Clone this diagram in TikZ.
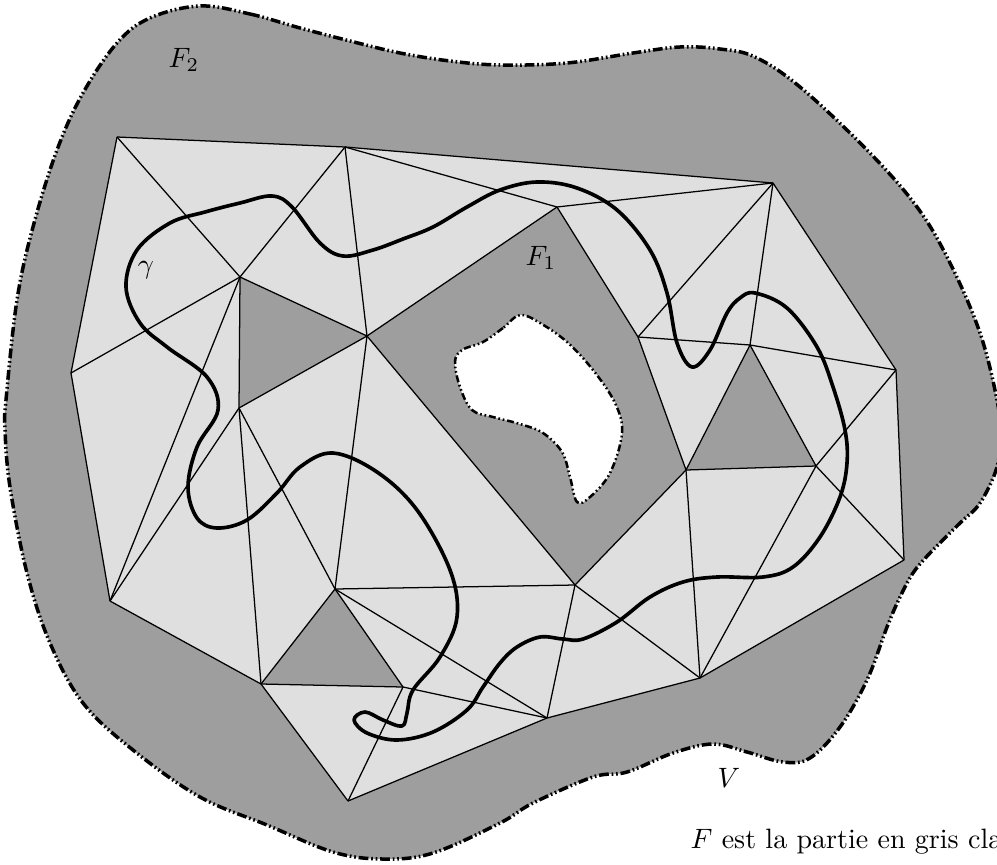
\documentclass[tikz,border=0pt]{standalone}
\usepackage{amsmath}
\usepackage{tikz}

\definecolor{grisfonce}{gray}{0.62}
\definecolor{grisclair}{gray}{0.875}
\tikzset{
    bord/.style={line width=1.25pt, dash pattern=on 3.5pt off 1pt on 0.6pt off 1pt on 0.6pt off 1pt},
    trou/.style={line width=0.9pt, dash pattern=on 2.5pt off 1pt on 0.6pt off 1pt on 0.6pt off 1pt},
    arete/.style={line width=0.45pt},
    courbe/.style={line width=1.3pt, line join=round},
}

\begin{document}
\begin{tikzpicture}[x=0.357pt,y=-0.357pt]
        \useasboundingbox (0,0) rectangle (997,864);

        \coordinate (a) at (117,137);
        \coordinate (b) at (345,147);
        \coordinate (c) at (773,183);
        \coordinate (d) at (557,207);
        \coordinate (e) at (240,277);
        \coordinate (g) at (367,336);
        \coordinate (h) at (71,373);
        \coordinate (i) at (239,408);
        \coordinate (j) at (638,337);
        \coordinate (k) at (750,345);
        \coordinate (l) at (896,370);
        \coordinate (m) at (686,470);
        \coordinate (n) at (816,466);
        \coordinate (o) at (110,601);
        \coordinate (p) at (335,589);
        \coordinate (q) at (575,585);
        \coordinate (r) at (904,560);
        \coordinate (s) at (261,684);
        \coordinate (t) at (403,687);
        \coordinate (u) at (547,718);
        \coordinate (w) at (700,678);
        \coordinate (x) at (348,801);

        % le voisinage V
        \draw[bord, fill=grisfonce] plot[smooth cycle, tension=0.6] coordinates {
            (200,6) (250,14) (300,28) (350,41) (400,53) (450,61) (500,65) (567,63) (633,53) (680,47) (720,49) (755,57) (800,87)
            (867,150) (917,207) (950,263) (980,333) (997,400) (1000,433) (997,467) (980,503) (960,523) (930,553) (913,573) (900,597)
            (887,627) (867,680) (840,727) (810,758) (783,762) (747,752) (713,744) (673,753) (627,772)
            (593,777) (533,803) (500,823) (433,853) (383,859) (333,852) (267,825) (200,797) (133,750)
            (83,703) (50,643) (27,573) (10,487) (5,430) (6,400) (17,300) (33,227) (57,150) (83,93)
            (117,43) (150,18)};

        % les triangles
        \fill[grisclair] (a) -- (b) -- (c) -- (l) -- (r) -- (w) -- (u) -- (x) -- (s) -- (o) -- (h) -- cycle;
        \fill[grisfonce] (g) -- (d) -- (j) -- (m) -- (q) -- cycle;
        \fill[grisfonce] (e) -- (g) -- (i) -- cycle;
        \fill[grisfonce] (m) -- (k) -- (n) -- cycle;
        \fill[grisfonce] (p) -- (s) -- (t) -- cycle;

        \draw[trou, fill=white] plot[smooth cycle, tension=0.6] coordinates {
            (520,315) (503,328) (483,342) (462,350) (455,362) (460,387) (472,410) (493,417) (520,424)
            (543,433) (562,452) (570,477) (577,502) (590,497) (610,473) (622,433) (615,403) (593,370)
            (567,342) (540,323)};

        \foreach \u/\v in {a/b, b/c, c/l, l/r, r/w, w/u, u/x, x/s, s/o, o/h, h/a,
                a/e, b/e, b/g, b/d, d/c, e/g, e/h, e/i, e/o, g/i, g/d, g/p, g/q,
                i/o, i/s, i/p, p/s, p/t, s/t, p/q, p/u, t/u, t/x, u/q, q/w, q/m,
                d/j, j/c, j/k, c/k, k/l, k/m, k/n, m/n, j/m, m/w, n/w, n/l, n/r}
            \draw[arete] (\u) -- (\v);

        % la courbe gamma
        \draw[courbe] plot[smooth cycle, tension=0.6] coordinates {
            (413,690) (440,657) (457,617) (450,570) (417,510) (377,472) (333,453) (300,467) (277,493)
            (247,520) (217,528) (197,518) (188,487) (197,447) (218,410) (207,377) (167,347) (140,323)
            (126,287) (137,250) (170,223) (205,212) (240,203) (272,196) (292,207) (320,243) (343,256) (373,250)
            (403,239) (433,227) (467,207) (500,190) (537,182) (577,188) (617,210) (650,250) (667,293) (677,343) (692,367)
            (710,350) (727,313) (740,298) (755,293) (787,308) (817,347) (833,387) (845,430) (847,463) (840,497)
            (820,537) (793,567) (763,577) (717,577) (683,582) (650,597) (617,622) (583,639) (563,639) (540,637)
            (517,647) (500,663) (483,687) (467,710) (433,732) (397,740) (367,733) (354,720) (365,712) (383,720)
            (402,726) (407,713)};

        \node (f2) at (184,60) {$F_2$};
        \node (f1) at (541,258) {$F_1$};
        \node (gam) at (146,270) {$\gamma$};
        \node (vv) at (729,778) {$V$};
        \node[anchor=base west, inner sep=0pt] (legende) at (690,848) {$F$ est la partie en gris cla};
\end{tikzpicture}
\end{document}
